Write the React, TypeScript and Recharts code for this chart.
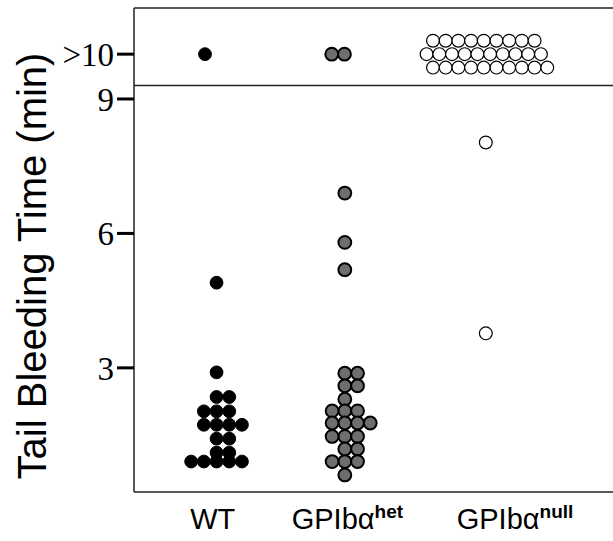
import { ScatterChart, Scatter, XAxis, YAxis, ReferenceLine } from "recharts"

// group names (base + superscript)
const groups = ["WT", "GPIbα", "GPIbα"]
const groupSup = ["", "het", "null"]

// tail bleeding times (min)
const wtTimes = [4.9, 2.9, 2.35, 2.35, 2.03, 2.03, 2.03, 1.73, 1.73, 1.73, 1.73, 1.42, 1.42, 1.11, 1.11, 0.91, 0.91, 0.91, 0.91, 0.91]
const hetTimes = [6.9, 5.8, 5.19, 2.88, 2.88, 2.6, 2.6, 2.3, 2.04, 2.04, 2.04, 1.77, 1.77, 1.77, 1.77, 1.47, 1.47, 1.47, 1.19, 1.19, 0.91, 0.91, 0.91, 0.61]
const nullTimes = [8.03, 3.77]
// number of mice still bleeding at 10 min, per group
const over10 = [1, 2, 29]

const yTicks = [3, 6, 9, 10]

// layout (x unit = one dot width)
const X_MAX = 38.66
const Y_MIN = 0.23
const Y_MAX = 11.03
const CUTOFF = 9.3
const centers = [6.5, 16.6, 27.7]
const overStart = [5.59, 15.57, 23.54]
const labelPos = [6.2, 16.8, 30]

const slot = (k: number) => (k === 0 ? 0 : k % 2 ? (k + 1) / 2 : -k / 2)

function swarm(values: number[], c: number) {
  const seen = new Map<number, number>()
  return values.map((v) => {
    const k = seen.get(v) ?? 0
    seen.set(v, k + 1)
    return { x: c + slot(k), y: v }
  })
}

function overPile(n: number, start: number) {
  const rows = Math.ceil(n / 10)
  return Array.from({ length: n }, (_, i) => {
    const r = Math.floor(i / 10)
    return { x: start + (i % 10) - (r % 2) * 0.5, y: 10 + (r - (rows - 1) / 2) * 0.3 }
  })
}

const wtData = [...swarm(wtTimes, centers[0]), ...overPile(over10[0], overStart[0])]
const hetData = [...swarm(hetTimes, centers[1]), ...overPile(over10[1], overStart[1])]
const nullData = [...swarm(nullTimes, centers[2]), ...overPile(over10[2], overStart[2])]

const dot = (fill: string, stroke: string, sw: number) => (p: any) =>
  <circle cx={p.cx} cy={p.cy} r={6.4} fill={fill} stroke={stroke} strokeWidth={sw} />

function GroupTick({ x, y, payload }: any) {
  const i = labelPos.indexOf(payload.value)
  if (i < 0) return null
  return (
    <text x={x} y={y + 29} textAnchor="middle" fontFamily="'Liberation Sans', Arial, sans-serif" fontSize={29} fill="#000">
      {groups[i]}
      {groupSup[i] && <tspan dy={-11} fontSize={19} fontWeight="bold">{groupSup[i]}</tspan>}
    </text>
  )
}

function YTitle() {
  return (
    <text x={46} y={266} transform="rotate(-90, 46, 266)" textAnchor="middle"
      fontFamily="'Liberation Sans', Arial, sans-serif" fontSize={40} fill="#000">
      Tail Bleeding Time (min)
    </text>
  )
}

export default function App() {
  return (
    <div style={{ position: "absolute", left: 0, top: 0, width: 613, height: 541, overflow: "hidden", background: "#fff" }}>
      <ScatterChart width={630} height={541} margin={{ top: 8, right: 5, bottom: 0, left: 0 }}>
        <XAxis type="number" dataKey="x" domain={[0, X_MAX]} ticks={labelPos} interval={0}
          allowDataOverflow height={49} tickLine={false}
          axisLine={{ stroke: "#222", strokeWidth: 1.5 }} tick={<GroupTick />} />
        <YAxis type="number" dataKey="y" domain={[Y_MIN, Y_MAX]} ticks={yTicks} interval={0}
          allowDataOverflow width={134} tickSize={17} tickMargin={3}
          tickFormatter={(v: number) => (v === 10 ? ">10" : String(v))}
          axisLine={{ stroke: "#222", strokeWidth: 1.5 }}
          tickLine={{ stroke: "#000", strokeWidth: 3 }}
          tick={{ fontFamily: "'Liberation Serif', 'Times New Roman', serif", fontSize: 33, fill: "#000" }}
          label={<YTitle />} />
        <ReferenceLine y={Y_MAX} stroke="#222" strokeWidth={1.5} />
        <ReferenceLine y={CUTOFF} stroke="#222" strokeWidth={1.5} />
        <Scatter data={wtData} isAnimationActive={false} shape={dot("#000", "#000", 1)} />
        <Scatter data={hetData} isAnimationActive={false} shape={dot("#6e6e6e", "#000", 2)} />
        <Scatter data={nullData} isAnimationActive={false} shape={dot("#fff", "#000", 1.2)} />
      </ScatterChart>
    </div>
  )
}
